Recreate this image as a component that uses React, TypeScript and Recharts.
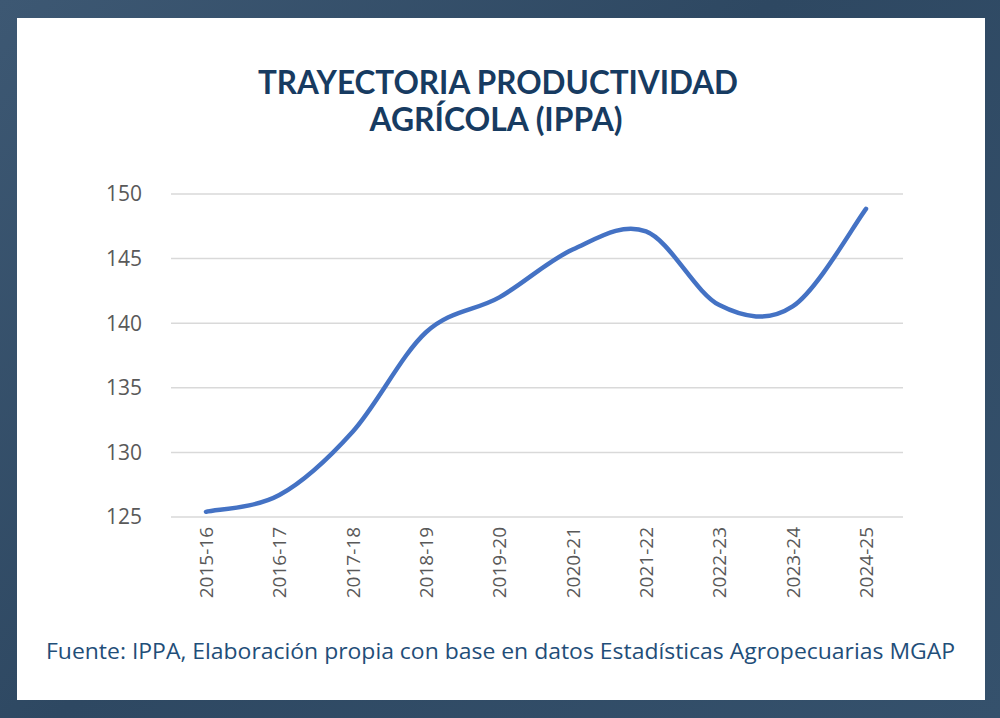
import React from "react";
import { LineChart, Line, XAxis, YAxis, CartesianGrid } from "recharts";

// Campañas agrícolas
const seasons = [
  "2015-16",
  "2016-17",
  "2017-18",
  "2018-19",
  "2019-20",
  "2020-21",
  "2021-22",
  "2022-23",
  "2023-24",
  "2024-25",
];

// Índice de productividad (IPPA)
const ippa = [125.4, 126.7, 131.6, 139.3, 142.0, 145.7, 147.1, 141.4, 141.3, 148.85];

const yTicks = [125, 130, 135, 140, 145, 150];

const TITLE_LINES = ["TRAYECTORIA PRODUCTIVIDAD", "AGRÍCOLA (IPPA)"];
const SOURCE = "Fuente: IPPA, Elaboración propia con base en datos Estadísticas Agropecuarias MGAP";

const LINE_COLOR = "#4472C4";
const GRID_COLOR = "#D9D9D9";
const TICK_COLOR = "#595959";

const data = seasons.map((s, i) => ({ season: s, value: ippa[i] }));

// Excel-style smoothed line (Catmull-Rom through every point)
function smoothCurve(context: any) {
  let pts: [number, number][] = [];
  return {
    areaStart() {},
    areaEnd() {},
    lineStart() {
      pts = [];
    },
    point(x: number, y: number) {
      pts.push([+x, +y]);
    },
    lineEnd() {
      if (!pts.length) return;
      context.moveTo(pts[0][0], pts[0][1]);
      for (let i = 0; i < pts.length - 1; i++) {
        const p0 = pts[i - 1] || pts[i];
        const p1 = pts[i];
        const p2 = pts[i + 1];
        const p3 = pts[i + 2] || p2;
        context.bezierCurveTo(
          p1[0] + (p2[0] - p0[0]) / 6,
          p1[1] + (p2[1] - p0[1]) / 6,
          p2[0] - (p3[0] - p1[0]) / 6,
          p2[1] - (p3[1] - p1[1]) / 6,
          p2[0],
          p2[1]
        );
      }
    },
  };
}

const SeasonTick = (props: any) => {
  const { x, y, payload } = props;
  const ty = y + 2;
  return (
    <text
      x={x}
      y={ty}
      transform={`rotate(-90, ${x}, ${ty})`}
      textAnchor="end"
      dominantBaseline="central"
      fill={TICK_COLOR}
      fontSize={19}
      fontFamily="'Open Sans', sans-serif"
    >
      {payload.value}
    </text>
  );
};

export default function App() {
  return (
    <div
      style={{
        position: "fixed",
        left: 0,
        top: 0,
        width: 1000,
        height: 718,
        overflow: "hidden",
        background: "linear-gradient(135deg, #3d5873 0%, #2e4862 45%, #35516c 100%)",
      }}
    >
      <div
        style={{
          position: "absolute",
          left: 17,
          top: 18,
          width: 968,
          height: 682,
          background: "#ffffff",
        }}
      />
      <svg width={1000} height={718} style={{ position: "absolute", left: 0, top: 0 }}>
        <text
          x={498}
          y={94}
          textAnchor="middle"
          fontFamily="Lato, sans-serif"
          fontWeight={700}
          fontSize={33}
          fill="#173B61"
          textLength={480}
          lengthAdjust="spacingAndGlyphs"
        >
          {TITLE_LINES[0]}
        </text>
        <text
          x={496}
          y={131}
          textAnchor="middle"
          fontFamily="Lato, sans-serif"
          fontWeight={700}
          fontSize={33}
          fill="#173B61"
          textLength={253}
          lengthAdjust="spacingAndGlyphs"
        >
          {TITLE_LINES[1]}
        </text>
        <text
          x={46}
          y={659}
          fontFamily="'Open Sans', sans-serif"
          fontSize={22}
          fill="#1F4E79"
          textLength={909}
          lengthAdjust="spacingAndGlyphs"
        >
          {SOURCE}
        </text>
      </svg>
      <div style={{ position: "absolute", left: 0, top: 0 }}>
        <LineChart
          width={1000}
          height={718}
          data={data}
          margin={{ top: 194, right: 97, bottom: 0, left: 0 }}
        >
          <CartesianGrid vertical={false} stroke={GRID_COLOR} strokeWidth={1.5} />
          <XAxis
            dataKey="season"
            height={201}
            axisLine={false}
            tickLine={false}
            interval={0}
            padding={{ left: 35, right: 37 }}
            tick={<SeasonTick />}
          />
          <YAxis
            width={171}
            domain={[125, 150]}
            ticks={yTicks}
            axisLine={false}
            tickLine={false}
            tickMargin={23}
            tick={{ fill: TICK_COLOR, fontSize: 21, fontFamily: "'Open Sans', sans-serif" }}
          />
          <Line
            dataKey="value"
            type={smoothCurve as any}
            stroke={LINE_COLOR}
            strokeWidth={4.5}
            strokeLinecap="round"
            dot={false}
            activeDot={false}
            isAnimationActive={false}
          />
        </LineChart>
      </div>
    </div>
  );
}
